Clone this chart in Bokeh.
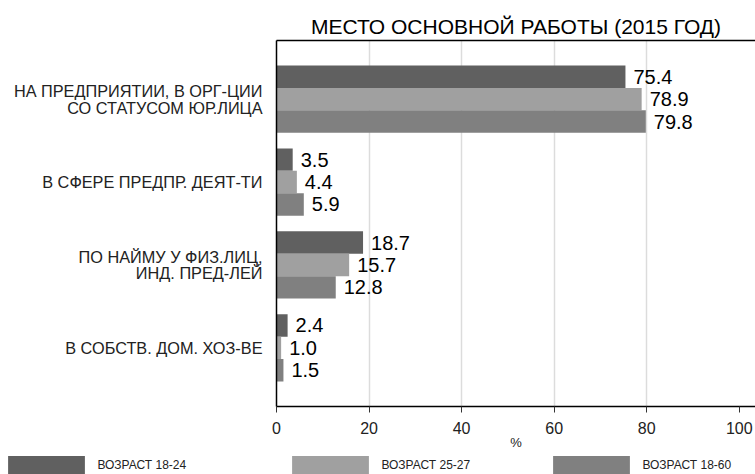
from bokeh.plotting import figure
from bokeh.layouts import column
from bokeh.models import (FactorRange, Range1d, FixedTicker, ColumnDataSource, Legend,
                          LegendItem, LinearAxis)
from bokeh.transform import dodge
from bokeh.core.properties import value
from bokeh.embed import file_html
from bokeh.resources import INLINE

categories = [
    "НА ПРЕДПРИЯТИИ, В ОРГ-ЦИИ\nСО СТАТУСОМ ЮР.ЛИЦА",
    "В СФЕРЕ ПРЕДПР. ДЕЯТ-ТИ",
    "ПО НАЙМУ У ФИЗ.ЛИЦ,\nИНД. ПРЕД-ЛЕЙ",
    "В СОБСТВ. ДОМ. ХОЗ-ВЕ",
]
series_names = ["ВОЗРАСТ 18-24", "ВОЗРАСТ 25-27", "ВОЗРАСТ 18-60"]
age_18_24 = [75.4, 3.5, 18.7, 2.4]
age_25_27 = [78.9, 4.4, 15.7, 1.0]
age_18_60 = [79.8, 5.9, 12.8, 1.5]
x_ticks = [0, 20, 40, 60, 80, 100]
title_text = "МЕСТО ОСНОВНОЙ РАБОТЫ (2015 ГОД)"
x_label = "%"

colors = ["#606060", "#a0a0a0", "#808080"]
offsets = [0.27, 0.0, -0.27]
FONT = "Liberation Sans"

src = ColumnDataSource(dict(
    cat=categories,
    s0=age_18_24, s1=age_25_27, s2=age_18_60,
    l0=[f"{v:.1f}" for v in age_18_24],
    l1=[f"{v:.1f}" for v in age_25_27],
    l2=[f"{v:.1f}" for v in age_18_60],
))

p = figure(width=755, height=455,
           y_range=FactorRange(*list(reversed(categories)), range_padding=0.104),
           x_range=Range1d(0, 103.5),
           output_backend="svg", toolbar_location=None,
           min_border_left=276, min_border_right=0, min_border_top=40,
           min_border_bottom=49, frame_align=False)

p.title.text = title_text
p.title.align = "center"
p.title.text_font = FONT
p.title.text_font_size = "21px"
p.title.text_font_style = "normal"
p.title.text_color = "black"
p.title.standoff = 6

for i in range(3):
    p.hbar(y=dodge("cat", offsets[i], range=p.y_range), right=f"s{i}", left=0,
           height=0.27, source=src, fill_color=colors[i], line_color=None)
    p.text(x=f"s{i}", y=dodge("cat", offsets[i], range=p.y_range), text=f"l{i}",
           source=src, x_offset=8, text_baseline="middle", text_align="left",
           text_font=value(FONT), text_font_size="20px", text_color="black")

p.outline_line_color = None
p.background_fill_color = "white"
p.border_fill_color = "white"

# grid
p.ygrid.grid_line_color = None
p.xgrid.ticker = FixedTicker(ticks=[20, 40, 60, 80])
p.xgrid.grid_line_color = "#dcdcdc"
p.xgrid.grid_line_width = 1.5

# x axis
xa = p.xaxis[0]
xa.ticker = FixedTicker(ticks=x_ticks)
xa.axis_line_color = "black"
xa.axis_line_width = 1.5
xa.major_tick_out = 6
xa.major_tick_in = 0
xa.major_tick_line_color = "#333333"
xa.minor_tick_line_color = None
xa.major_label_text_font = FONT
xa.major_label_text_font_size = "16px"
xa.major_label_text_color = "#222222"
xa.major_label_standoff = 9
xa.axis_label = x_label
xa.axis_label_text_font = FONT
xa.axis_label_text_font_size = "13px"
xa.axis_label_text_font_style = "normal"
xa.axis_label_text_color = "#222222"
xa.axis_label_standoff = -2

# y axis
ya = p.yaxis[0]
ya.axis_line_color = "black"
ya.axis_line_width = 1.5
ya.major_tick_line_color = None
ya.minor_tick_line_color = None
ya.major_label_text_font = FONT
ya.major_label_text_font_size = "16.3px"
ya.major_label_text_line_height = 0.93
ya.major_label_text_color = "#222222"
ya.major_label_standoff = 8

# top line
top = LinearAxis(major_tick_line_color=None, minor_tick_line_color=None,
                 major_label_text_font_size="0px", axis_line_color="black",
                 axis_line_width=1.5)
top.ticker = FixedTicker(ticks=[])
p.add_layout(top, "above")

# legend strip (separate small figure, hidden renderers carry the swatch styles)
lf = figure(width=755, height=20, x_range=Range1d(0, 100),
            y_range=FactorRange(*categories),
            x_axis_type=None, y_axis_type=None, output_backend="svg",
            toolbar_location=None, min_border=0, min_border_left=0,
            min_border_right=0, min_border_top=0, min_border_bottom=0,
            frame_align=False)
lf.outline_line_color = None
lf.grid.visible = False
leg_x = [-1.6, 282.4, 543.4]
for i in range(3):
    rr = lf.hbar(y="cat", right=f"s{i}", left=0, height=0.5, source=src,
                 fill_color=colors[i], line_color=None, visible=False)
    lg = Legend(items=[LegendItem(label=series_names[i], renderers=[rr])],
                location=(leg_x[i], -2.5), orientation="horizontal",
                glyph_width=96, glyph_height=25, label_standoff=3,
                padding=0, margin=0, border_line_color=None,
                background_fill_alpha=0,
                label_text_font=FONT, label_text_font_size="12px",
                label_text_color="#222222")
    lf.add_layout(lg, "center")

layout = column(p, lf, spacing=0)
open("out.html", "w").write(file_html(layout, INLINE))
